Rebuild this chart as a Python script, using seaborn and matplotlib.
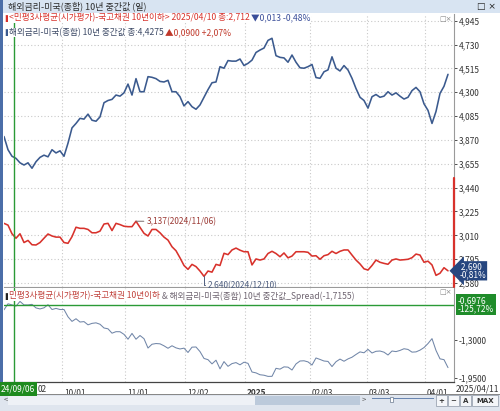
import matplotlib
matplotlib.use("Agg")
import matplotlib.pyplot as plt
import matplotlib.transforms as mtransforms
from matplotlib.patches import Rectangle
from matplotlib.ticker import FixedLocator, FuncFormatter
import numpy as np
import pandas as pd
import seaborn as sns

# 해외금리-미국(종합) 10년 중간값 (%)
us10y = [3.901, 3.782, 3.723, 3.704, 3.664, 3.644, 3.664, 3.615, 3.674, 3.713,
         3.733, 3.718, 3.782, 3.753, 3.772, 3.723, 3.841, 3.979, 4.019, 4.065,
         4.058, 4.103, 4.048, 4.039, 4.078, 4.206, 4.226, 4.236, 4.275, 4.265,
         4.295, 4.374, 4.275, 4.423, 4.305, 4.305, 4.441, 4.435, 4.423, 4.398,
         4.393, 4.408, 4.305, 4.305, 4.260, 4.177, 4.216, 4.170, 4.147, 4.186,
         4.255, 4.324, 4.386, 4.393, 4.531, 4.517, 4.586, 4.581, 4.581, 4.600,
         4.541, 4.561, 4.590, 4.659, 4.681, 4.699, 4.768, 4.787, 4.630, 4.615,
         4.610, 4.571, 4.636, 4.571, 4.521, 4.517, 4.531, 4.551, 4.433, 4.426,
         4.485, 4.502, 4.620, 4.517, 4.492, 4.541, 4.501, 4.426, 4.334, 4.255,
         4.226, 4.157, 4.260, 4.280, 4.255, 4.265, 4.305, 4.275, 4.295, 4.265,
         4.239, 4.255, 4.315, 4.344, 4.305, 4.196, 4.137, 4.019, 4.127, 4.290,
         4.354, 4.462]

# 민평3사평균(시가평가)-국고채권 10년이하 (%)
ktb10y = [3.118, 3.102, 3.024, 2.984, 3.024, 2.945, 2.964, 2.925, 2.923, 2.945,
          2.984, 3.022, 3.004, 2.994, 2.994, 2.945, 2.938, 2.998, 3.083, 3.073,
          3.073, 3.063, 3.033, 3.033, 3.048, 3.112, 3.118, 3.053, 3.118, 3.107,
          3.092, 3.088, 3.088, 3.137, 3.082, 3.028, 3.004, 3.063, 3.063, 3.033,
          2.994, 2.967, 2.907, 2.871, 2.807, 2.738, 2.703, 2.748, 2.728, 2.688,
          2.640, 2.688, 2.678, 2.748, 2.738, 2.848, 2.836, 2.878, 2.895, 2.876,
          2.862, 2.862, 2.743, 2.797, 2.787, 2.797, 2.846, 2.866, 2.846, 2.817,
          2.851, 2.807, 2.823, 2.862, 2.862, 2.862, 2.857, 2.823, 2.826, 2.794,
          2.826, 2.836, 2.866, 2.846, 2.866, 2.878, 2.878, 2.832, 2.787, 2.752,
          2.708, 2.697, 2.738, 2.787, 2.767, 2.757, 2.749, 2.787, 2.797, 2.787,
          2.790, 2.794, 2.808, 2.841, 2.832, 2.767, 2.777, 2.743, 2.649, 2.668,
          2.718, 2.690]

tick_days = [14.5, 30.25, 45.25, 60.25, 76.5, 90.75, 105.25]
tick_labels = ["10/01", "11/01", "12/02", "2025", "02/03", "03/03", "04/01"]
main_yticks = [2.580, 2.795, 3.010, 3.225, 3.440, 3.655, 3.870, 4.085,
               4.300, 4.515, 4.730, 4.945]
spread_yticks = [-1.30, -1.95]

cursor_day = 2.5
cursor_spread = -0.6976
peak_day, trough_day = 33, 50

df = pd.DataFrame({"day": np.arange(len(us10y)), "us10y": us10y, "ktb10y": ktb10y})
df["spread"] = df["ktb10y"] - df["us10y"]

W, H = 500, 411
BLUE = "#3b5a8e"
RED = "#d8322c"
GREEN = "#2a9a36"
GRID = "#c9c9c9"


def fx(px):
    return px / W


def fy(py):
    return 1 - py / H


sns.set_style("white")
plt.rcParams["font.family"] = ["Noto Sans CJK KR", "DejaVu Sans"]
plt.rcParams["font.size"] = 6

fig = plt.figure(figsize=(W / 100, H / 100), dpi=100)
renderer = fig.canvas.get_renderer()

# window chrome
fig.patches.append(Rectangle((0, fy(13)), 1, 13 / H, transform=fig.transFigure,
                             fc="#d8e4f2", ec="none", zorder=0))
fig.patches.append(Rectangle((0, fy(395)), fx(3), 395 / H, transform=fig.transFigure,
                             fc="#4b6ea8", ec="none", zorder=5))
fig.text(fx(8), fy(6.5), "해외금리-미국(종합) 10년 중간값 (일)", va="center",
         color="#2b2b2b", fontsize=6.5)
fig.text(fx(496), fy(6.5), "□ ×", va="center", ha="right", color="#222222",
         fontsize=6.5, family=["DejaVu Sans"])

ax = fig.add_axes([fx(4), fy(287), fx(450), (287 - 14) / H])
ax2 = fig.add_axes([fx(4), fy(382), fx(450), (382 - 288) / H])

sns.lineplot(data=df, x="day", y="us10y", ax=ax, color=BLUE, linewidth=1.15)
sns.lineplot(data=df, x="day", y="ktb10y", ax=ax, color=RED, linewidth=1.15)
sns.lineplot(data=df, x="day", y="spread", ax=ax2, color="#7186a8", linewidth=0.75)

for a in (ax, ax2):
    a.set_xlim(0, 112.5)
    a.set_xlabel("")
    a.set_ylabel("")
    a.xaxis.set_major_locator(FixedLocator(tick_days))
    a.grid(axis="x", linestyle=(0, (1, 2)), color=GRID, linewidth=0.8)
    a.yaxis.tick_right()
    a.tick_params(axis="y", length=2.5, width=0.6, pad=1, colors="#333333",
                  labelsize=6)
    for s in ("top", "left"):
        a.spines[s].set_visible(False)
    a.spines["right"].set_color("#9a9a9a")
    a.spines["right"].set_linewidth(0.8)
    a.axvline(cursor_day, color=GREEN, linewidth=1.0, zorder=4)

ax.set_ylim(2.544, 5.006)
ax.yaxis.set_major_locator(FixedLocator(main_yticks))
ax.yaxis.set_major_formatter(FuncFormatter(lambda v, p: f"{v:.3f}".replace(".", ",")))
ax.grid(axis="y", linestyle=(0, (1, 2)), color=GRID, linewidth=0.8)
ax.tick_params(axis="x", length=0, labelbottom=False)
ax.spines["bottom"].set_color("#9a9a9a")
ax.spines["bottom"].set_linewidth(0.8)
ax.plot([1, 1], [0, 0.4], transform=ax.transAxes, color=RED, linewidth=1.6,
        clip_on=False, zorder=6)

ax2.set_ylim(-2.018, -0.41)
ax2.yaxis.set_major_locator(FixedLocator(spread_yticks))
ax2.yaxis.set_major_formatter(FuncFormatter(lambda v, p: f"{v:.4f}".replace(".", ",")))
ax2.axhline(cursor_spread, color=GREEN, linewidth=1.0, zorder=4)
ax2.spines["bottom"].set_color("#444444")
ax2.spines["bottom"].set_linewidth(0.9)
ax2.set_xticklabels(tick_labels)
ax2.tick_params(axis="x", length=4, width=0.7, pad=0.5, colors="#333333",
                labelsize=6)
shift = mtransforms.ScaledTranslation(1.5 / 72, 0, fig.dpi_scale_trans)
for lab in ax2.get_xticklabels():
    lab.set_ha("left")
    lab.set_transform(lab.get_transform() + shift)
    if lab.get_text() == "2025":
        lab.set_fontweight("bold")

# high / low annotations on the KTB line
ax.annotate(f"{ktb10y[peak_day]:.3f}(2024/11/06)".replace(".", ","),
            xy=(peak_day, ktb10y[peak_day]), xytext=(8, 0), textcoords="offset points",
            va="center", ha="left", color="#9c3b36", fontsize=6,
            arrowprops=dict(arrowstyle="-", color="#7a6a6a", lw=0.7,
                            shrinkA=0, shrinkB=0))
ax.annotate(f"{ktb10y[trough_day]:.3f}(2024/12/10)".replace(".", ","),
            xy=(trough_day, ktb10y[trough_day]), xytext=(3, -6.5),
            textcoords="offset points", va="center", ha="left", color="#4f5f80",
            fontsize=6, annotation_clip=False, zorder=7,
            arrowprops=dict(arrowstyle="-", color="#4f5f80", lw=0.7, shrinkA=0,
                            shrinkB=0, connectionstyle="angle,angleA=0,angleB=90,rad=0"))

# last value tags
tr = mtransforms.blended_transform_factory(ax.transAxes, ax.transData)
ax.text(1.012, ktb10y[-1], " 2,690\n-0,81%", transform=tr, va="center", ha="left",
        color="white", fontsize=6, linespacing=0.9, zorder=8,
        bbox=dict(boxstyle="larrow,pad=0.12", fc="#26467f", ec="none"))
tr2 = mtransforms.blended_transform_factory(ax2.transAxes, ax2.transData)
ax2.text(1.008, cursor_spread, "-0,6976\n-125,72%", transform=tr2, va="center",
         ha="left", color="white", fontsize=6, linespacing=0.95, zorder=8,
         bbox=dict(boxstyle="square,pad=0.2", fc="#1f8c2a", ec="none"))


def chain(x_px, y_px, parts, size=6.2):
    x = x_px
    for text, color in parts:
        t = fig.text(fx(x), fy(y_px), text, color=color, va="center", ha="left",
                     fontsize=size, zorder=9,
                     bbox=dict(fc="white", ec="none", pad=0.3))
        x += t.get_window_extent(renderer=renderer).width


chain(4, 18, [("▮", RED),
              ("<민평3사평균(시가평가)-국고채권 10년이하> 2025/04/10 종:2,712 ", RED),
              ("▼0,013 -0,48%", "#3b4f9a")])
chain(4, 32.5, [("▮", BLUE),
                ("해외금리-미국(종합) 10년 중간값 종:4,4275 ", "#3d4a66"),
                ("▲0,0900 +2,07%", "#c0392b")])
chain(4, 296, [("▮", "#222222"),
               ("민평3사평균(시가평가)-국고채권 10년이하 ", "#c0403a"),
               ("& 해외금리-미국(종합) 10년 중간값_Spread(-1,7155)", "#6e6470")])

fig.text(fx(452), fy(19), "□×", va="center", ha="right", color="#8a8a8a",
         fontsize=5, family=["DejaVu Sans"], zorder=9)
fig.text(fx(452), fy(292), "□×", va="center", ha="right", color="#8a8a8a",
         fontsize=5, family=["DejaVu Sans"], zorder=9)

# date axis extras: cursor date box, tail of the hidden start label, end date
fig.text(fx(1), fy(389), "24/09/06", va="center", ha="left", color="white", fontsize=6,
         zorder=10, bbox=dict(boxstyle="square,pad=0.25", fc="#1e8a1e", ec="none"))
fig.text(fx(38), fy(389), "02", va="center", ha="left", color="#333333", fontsize=6)
fig.text(fx(499), fy(389), "2025/04/11", va="center", ha="right", color="#333333",
         fontsize=6)

# scroll bar
fig.patches.append(Rectangle((0, 0), 1, 16 / H, transform=fig.transFigure,
                             fc="#dfe5ee", ec="none", zorder=1))
fig.patches.append(Rectangle((fx(0), fy(395)), 1, 0.9 / H, transform=fig.transFigure,
                             fc="#888888", ec="none", zorder=2))
fig.patches.append(Rectangle((fx(8), fy(405)), fx(352), 9 / H, transform=fig.transFigure,
                             fc="#eef1f6", ec="none", zorder=2))
fig.patches.append(Rectangle((fx(255), fy(405)), fx(105), 9 / H,
                             transform=fig.transFigure, fc="#bccadb", ec="none", zorder=3))
fig.text(fx(4), fy(400.5), "<", va="center", color="#555555", fontsize=5.5, zorder=4)
fig.text(fx(362), fy(400.5), ">", va="center", color="#555555", fontsize=5.5, zorder=4)
fig.patches.append(Rectangle((fx(372), fy(399)), fx(62), 0.8 / H,
                             transform=fig.transFigure, fc="#6a86b0", ec="none", zorder=3))
fig.patches.append(Rectangle((fx(390), fy(402)), fx(3), 5 / H,
                             transform=fig.transFigure, fc="white", ec="#6a7a90",
                             lw=0.5, zorder=4))
for x0, w, label in [(436, 11, "+"), (448, 11, "−"), (460, 11, "A"), (472, 26, "MAX")]:
    fig.patches.append(Rectangle((fx(x0), fy(406)), fx(w), 11 / H,
                                 transform=fig.transFigure, fc="#f4f6f9", ec="#8c96a5",
                                 lw=0.5, zorder=3))
    fig.text(fx(x0 + w / 2), fy(400.5), label, va="center", ha="center",
             color="#333333", fontsize=5, fontweight="bold",
             family=["DejaVu Sans"], zorder=4)

fig.savefig("out.png", dpi=100)
